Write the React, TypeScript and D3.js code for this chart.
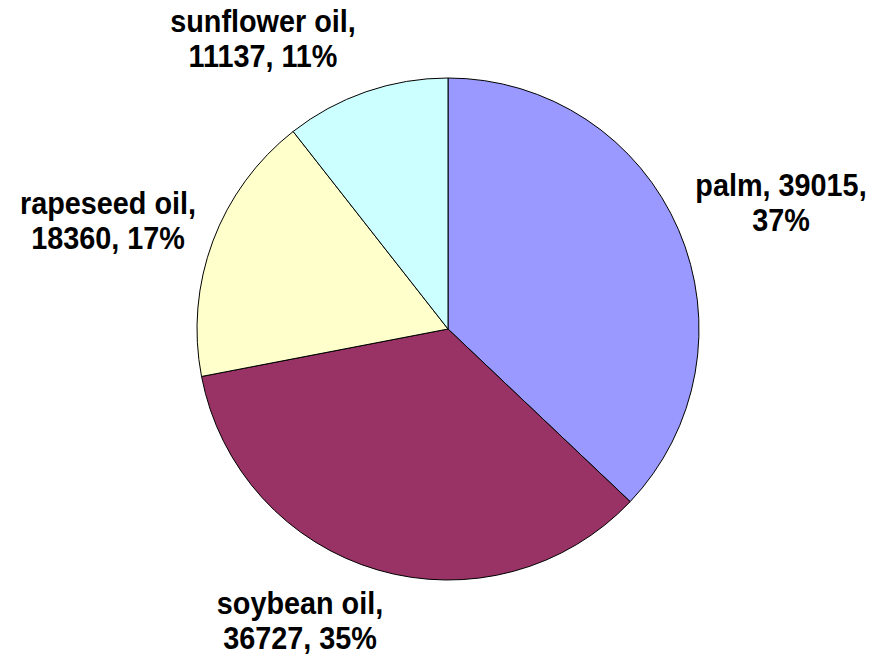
import React, {useEffect, useRef} from 'react';
import * as d3 from 'd3';

const categories = ['palm', 'soybean oil', 'rapeseed oil', 'sunflower oil'];
const values = [39015, 36727, 18360, 11137];
const percents = ['37%', '35%', '17%', '11%'];
const colors = ['#9999FF', '#993366', '#FFFFCC', '#CCFFFF'];

// label lines and their anchor (centre x, first baseline y)
const labelLines = [
  ['palm, 39015,', '37%'],
  ['soybean oil,', '36727, 35%'],
  ['rapeseed oil,', '18360, 17%'],
  ['sunflower oil,', '11137, 11%'],
];
const labelPos = [[781, 196], [300, 614], [108, 214], [263, 32]];

function App() {
  const ref = useRef(null);
  const width = 893;
  const height = 657;
  const cx = 448;
  const cy = 329;
  const radius = 251;

  useEffect(() => {
    const svg = d3.select(ref.current);
    svg.selectAll('*').remove();

    const data = categories.map((c, i) => ({name: c, value: values[i], pct: percents[i]}));
    const pie = d3.pie<any>().sort(null).value((d: any) => d.value);
    const arc = d3.arc<any>().innerRadius(0).outerRadius(radius);

    const g = svg.append('g').attr('transform', `translate(${cx},${cy})`);
    g.selectAll('path')
      .data(pie(data))
      .enter()
      .append('path')
      .attr('d', arc)
      .attr('fill', (d, i) => colors[i])
      .attr('stroke', '#000')
      .attr('stroke-width', 1);

    const labels = svg.append('g')
      .attr('font-family', 'Liberation Sans, Arial, sans-serif')
      .attr('font-weight', 'bold')
      .attr('font-size', 32)
      .attr('text-anchor', 'middle')
      .attr('fill', '#000');

    // the original text is slightly narrow, so squeeze it horizontally
    labelLines.forEach((lines, i) => {
      const t = labels.append('text')
        .attr('transform', `translate(${labelPos[i][0]},${labelPos[i][1]}) scale(0.9,1)`);
      lines.forEach((line, j) => {
        t.append('tspan')
          .attr('x', 0)
          .attr('y', j * 35)
          .text(line);
      });
    });
  }, []);

  return (
    <svg ref={ref} width={width} height={height}
         style={{position: 'absolute', left: 0, top: 0, background: '#fff'}}/>
  );
}

export default App;
